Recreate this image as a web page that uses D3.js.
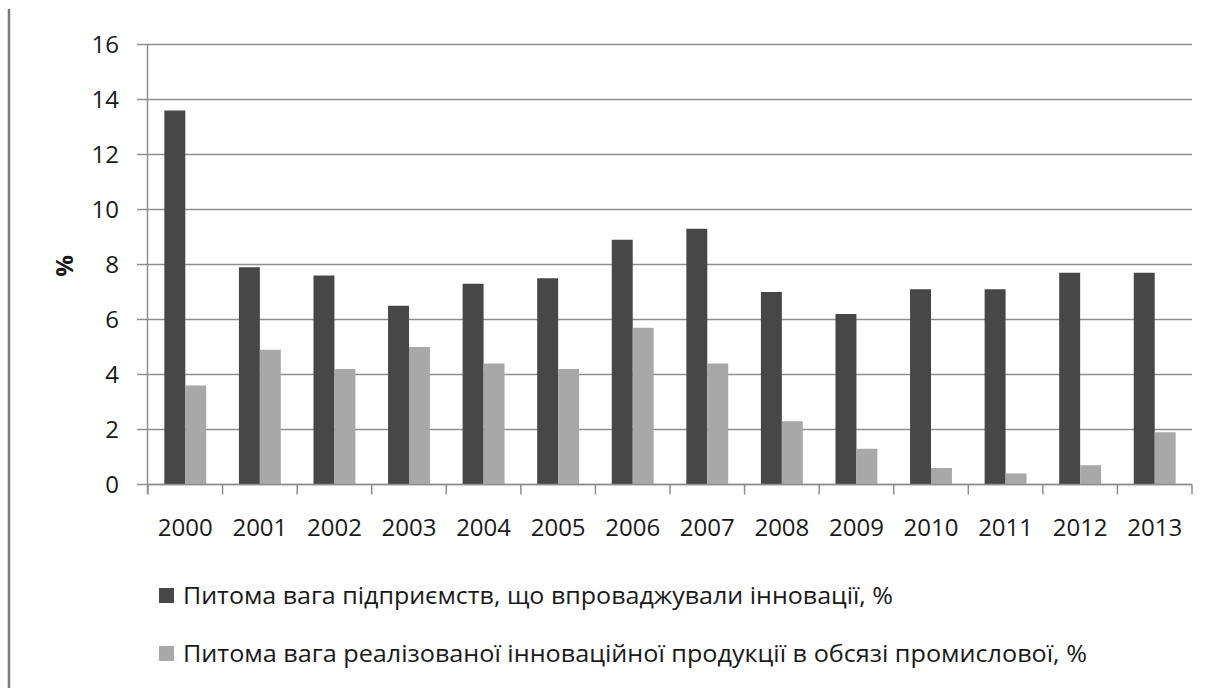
<!DOCTYPE html>
<html>
<head>
<meta charset="utf-8">
<script src="https://cdn.jsdelivr.net/npm/d3@7"></script>
<style>
  body { margin: 0; background: #fff; }
  text { font-family: "Open Sans", "DejaVu Sans", sans-serif; fill: #1a1a1a; }
</style>
</head>
<body>
<svg id="chart" width="1208" height="688"></svg>
<script>
const years = ["2000","2001","2002","2003","2004","2005","2006","2007","2008","2009","2010","2011","2012","2013"];
const enterpriseShare = [13.6, 7.9, 7.6, 6.5, 7.3, 7.5, 8.9, 9.3, 7.0, 6.2, 7.1, 7.1, 7.7, 7.7];
const productShare = [3.6, 4.9, 4.2, 5.0, 4.4, 4.2, 5.7, 4.4, 2.3, 1.3, 0.6, 0.4, 0.7, 1.9];
const seriesNames = [
    "Питома вага підприємств, що впроваджували інновації, %",
    "Питома вага реалізованої інноваційної продукції в обсязі промислової, %"
];
const yTicks = [0, 2, 4, 6, 8, 10, 12, 14, 16];

const COLORS = ["#474747", "#a8a8a8"];
const GRID = "#8e8e8e";

const svg = d3.select("#chart");

// left border line of the original figure
svg.append("line")
    .attr("x1", 9).attr("x2", 9)
    .attr("y1", 9).attr("y2", 688)
    .attr("stroke", "#7a7a7a").attr("stroke-width", 2.5);

const x0 = d3.scaleBand().domain(years).range([148, 1192]).padding(0);
const x1 = d3.scaleBand().domain([0, 1]).range([0, x0.bandwidth()]).paddingInner(0).paddingOuter(0.78);
const y = d3.scaleLinear().domain([0, 16]).range([484.5, 44.5]);

// gridlines with small tick stubs on the left
svg.append("g")
    .selectAll("line")
    .data(yTicks)
    .join("line")
    .attr("x1", 137).attr("x2", 1192)
    .attr("y1", d => y(d)).attr("y2", d => y(d))
    .attr("stroke", GRID).attr("stroke-width", 1.5);

// y axis line
svg.append("line")
    .attr("x1", 147.5).attr("x2", 147.5)
    .attr("y1", y(16)).attr("y2", 494)
    .attr("stroke", GRID).attr("stroke-width", 1.5);

// y tick labels
svg.append("g")
    .selectAll("text")
    .data(yTicks)
    .join("text")
    .attr("x", 119)
    .attr("y", d => y(d))
    .attr("dy", "0.36em")
    .attr("text-anchor", "end")
    .style("font-size", "24px")
    .text(d => d);

// y label
svg.append("text")
    .attr("transform", "translate(64,266) rotate(-90)")
    .attr("text-anchor", "middle")
    .attr("dy", "0.36em")
    .style("font-size", "24px")
    .style("font-weight", "bold")
    .text("%");

// bars
const groups = svg.append("g")
    .selectAll("g")
    .data(years.map((yr, i) => ({ yr, vals: [enterpriseShare[i], productShare[i]] })))
    .join("g")
    .attr("transform", d => "translate(" + x0(d.yr) + ",0)");

groups.selectAll("rect")
    .data(d => d.vals.map((v, k) => ({ v, k })))
    .join("rect")
    .attr("x", d => x1(d.k))
    .attr("width", x1.bandwidth())
    .attr("y", d => y(d.v))
    .attr("height", d => y(0) - y(d.v))
    .attr("fill", d => COLORS[d.k]);

// x axis line + ticks between categories
svg.append("line")
    .attr("x1", 147).attr("x2", 1192)
    .attr("y1", y(0)).attr("y2", y(0))
    .attr("stroke", GRID).attr("stroke-width", 1.5);

const boundaries = years.map(d => x0(d)).concat([x0.range()[1]]);
svg.append("g")
    .selectAll("line")
    .data(boundaries)
    .join("line")
    .attr("x1", d => d).attr("x2", d => d)
    .attr("y1", y(0)).attr("y2", y(0) + 10)
    .attr("stroke", GRID).attr("stroke-width", 1.5);

// year labels
svg.append("g")
    .selectAll("text")
    .data(years)
    .join("text")
    .attr("x", d => x0(d) + x0.bandwidth() / 2)
    .attr("y", 527)
    .attr("dy", "0.36em")
    .attr("text-anchor", "middle")
    .style("font-size", "24px")
    .text(d => d);

// legend
const legend = svg.append("g")
    .selectAll("g")
    .data(seriesNames)
    .join("g")
    .attr("transform", (d, i) => "translate(159," + (595 + i * 58) + ")");

legend.append("rect")
    .attr("x", 0).attr("y", -7)
    .attr("width", 15).attr("height", 15)
    .attr("fill", (d, i) => COLORS[i]);

legend.append("text")
    .attr("x", 24)
    .attr("dy", "0.36em")
    .style("font-size", "24px")
    .attr("textLength", (d, i) => i === 0 ? 710 : 904)
    .attr("lengthAdjust", "spacingAndGlyphs")
    .text(d => d);
</script>
</body>
</html>
